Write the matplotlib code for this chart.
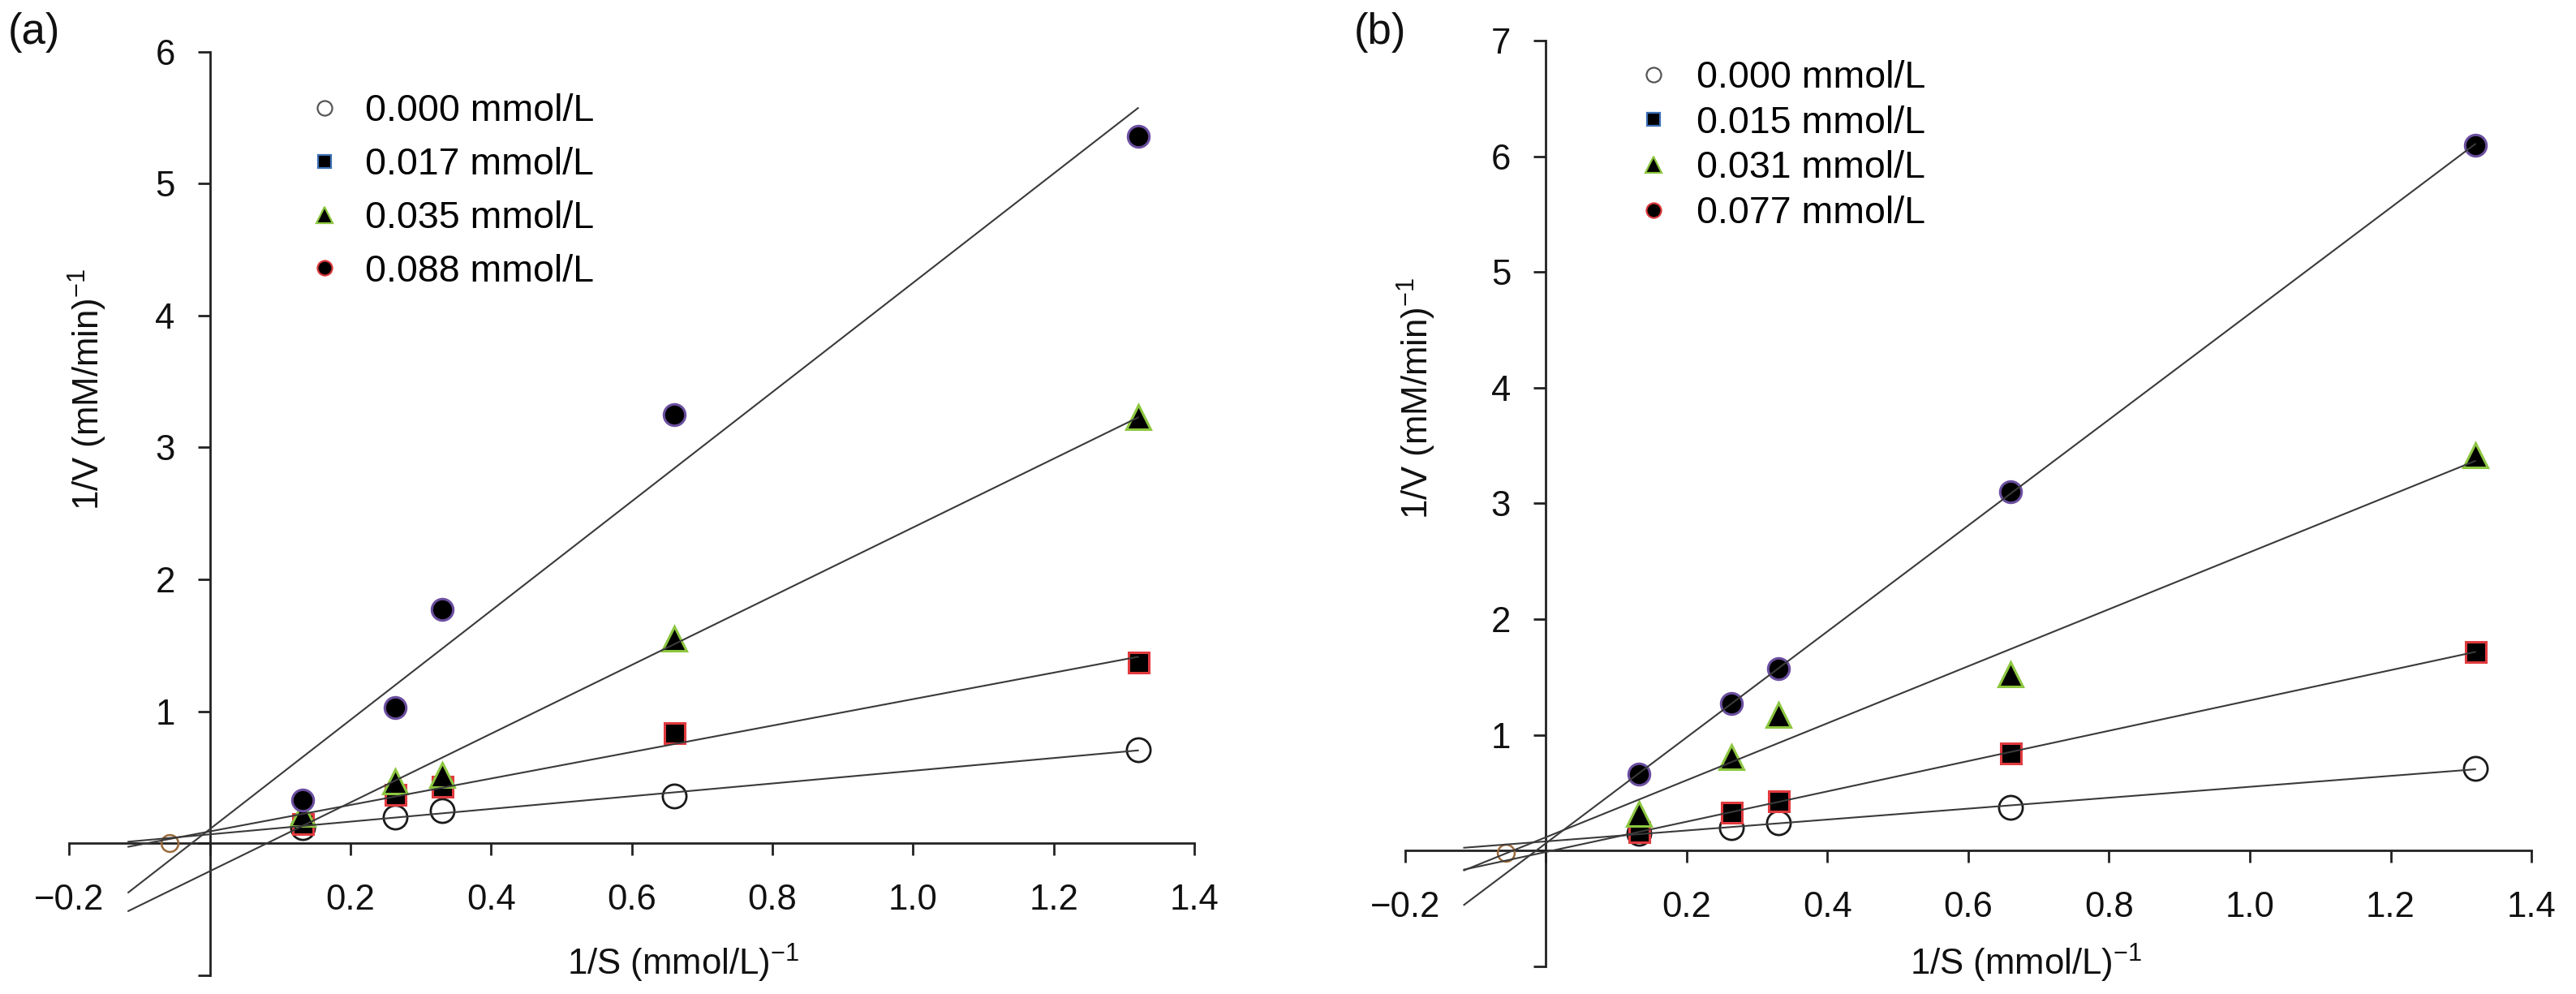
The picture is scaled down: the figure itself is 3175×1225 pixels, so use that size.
import numpy as np
import matplotlib
matplotlib.use("Agg")
import matplotlib.pyplot as plt
from matplotlib.lines import Line2D
from matplotlib.ticker import FixedLocator, FixedFormatter

# ---------------- data ----------------
inv_s = [0.132, 0.264, 0.330, 0.660, 1.320]

a_labels = ["0.000 mmol/L", "0.017 mmol/L", "0.035 mmol/L", "0.088 mmol/L"]
a_000 = [0.12, 0.20, 0.25, 0.36, 0.71]
a_017 = [0.15, 0.37, 0.43, 0.84, 1.37]
a_035 = [0.22, 0.47, 0.52, 1.55, 3.23]
a_088 = [0.33, 1.03, 1.77, 3.25, 5.36]
a_icpt_x = [-0.057]
a_icpt_y = [0.0]

b_labels = ["0.000 mmol/L", "0.015 mmol/L", "0.031 mmol/L", "0.077 mmol/L"]
b_000 = [0.15, 0.20, 0.24, 0.37, 0.71]
b_015 = [0.16, 0.33, 0.43, 0.84, 1.72]
b_031 = [0.32, 0.81, 1.17, 1.52, 3.42]
b_077 = [0.66, 1.27, 1.57, 3.10, 6.10]
b_icpt_x = [-0.057]
b_icpt_y = [-0.02]

fit_range = [-0.116, 1.32]

x_ticks = [-0.2, 0.0, 0.2, 0.4, 0.6, 0.8, 1.0, 1.2, 1.4]
x_tick_labels = ["\u22120.2", "", "0.2", "0.4", "0.6", "0.8", "1.0", "1.2", "1.4"]
a_y_ticks = [-1, 0, 1, 2, 3, 4, 5, 6]
a_y_tick_labels = ["", "", "1", "2", "3", "4", "5", "6"]
b_y_ticks = [-1, 0, 1, 2, 3, 4, 5, 6, 7]
b_y_tick_labels = ["", "", "1", "2", "3", "4", "5", "6", "7"]

xlabel = "1/S (mmol/L)$^{-1}$"
ylabel = "1/V (mM/min)$^{-1}$"

# ---------------- style ----------------
plt.rcParams["font.family"] = ["Liberation Sans", "DejaVu Sans"]
plt.rcParams["mathtext.fontset"] = "custom"
plt.rcParams["mathtext.rm"] = "Liberation Sans"
plt.rcParams["mathtext.it"] = "Liberation Sans:italic"
plt.rcParams["mathtext.bf"] = "Liberation Sans:bold"

FS = 31.5
LEG_FS = 33.5
AX_COL = "#222222"
LINE_COL = "#3a3a3a"

data_styles = [
    dict(marker="o", mfc="none", mec="#1a1a1a", ms=21, mew=2.0),
    dict(marker="s", mfc="black", mec="#e03a3e", ms=18, mew=2.2),
    dict(marker="^", mfc="black", mec="#8cc63f", ms=22, mew=2.2),
    dict(marker="o", mfc="black", mec="#6b4fa0", ms=19, mew=2.2),
]
legend_styles = [
    dict(marker="o", mfc="none", mec="#555555", ms=13, mew=1.6),
    dict(marker="s", mfc="black", mec="#3d6fb6", ms=12, mew=1.6),
    dict(marker="^", mfc="black", mec="#8cc63f", ms=15, mew=1.6),
    dict(marker="o", mfc="black", mec="#d9383a", ms=13, mew=1.6),
]

fig = plt.figure(figsize=(31.75, 12.25), dpi=100)

panels = [
    dict(pos=[0.0269, 0.019, 0.4367, 0.929], ylim=(-1, 6),
         series=[a_000, a_017, a_035, a_088], labels=a_labels,
         icx=a_icpt_x, icy=a_icpt_y, yt=a_y_ticks, ytl=a_y_tick_labels,
         tag="(a)", tagpos=(0.003, 0.988),
         xlab=(0.2653, 0.031), ylab=(0.034, 0.608),
         leg=(0.1187, 0.906), lsp=0.47, htp=0.57),
    dict(pos=[0.5454, 0.028, 0.4373, 0.931], ylim=(-1, 7),
         series=[b_000, b_015, b_031, b_077], labels=b_labels,
         icx=b_icpt_x, icy=b_icpt_y, yt=b_y_ticks, ytl=b_y_tick_labels,
         tag="(b)", tagpos=(0.5255, 0.988),
         xlab=(0.7865, 0.031), ylab=(0.550, 0.599),
         leg=(0.6347, 0.9396), lsp=0.25, htp=0.63),
]

xs_fit = np.array(fit_range)

for p in panels:
    ax = fig.add_axes(p["pos"])
    ax.set_xlim(-0.2, 1.4)
    ax.set_ylim(*p["ylim"])

    for ys, st in zip(p["series"], data_styles):
        ax.plot(inv_s, ys, linestyle="none", zorder=3, **st)
        k, b0 = np.polyfit(inv_s, ys, 1)
        ax.plot(xs_fit, k * xs_fit + b0, color=LINE_COL, lw=1.5, zorder=4)

    ax.plot(p["icx"], p["icy"], linestyle="none", marker="o", mfc="none",
            mec="#9a6a3a", ms=15, mew=1.8, zorder=3)

    for s in ["top", "right"]:
        ax.spines[s].set_visible(False)
    ax.spines["left"].set_position(("data", 0))
    ax.spines["bottom"].set_position(("data", 0))
    for s in ["left", "bottom"]:
        ax.spines[s].set_linewidth(2.0)
        ax.spines[s].set_color(AX_COL)

    ax.xaxis.set_major_locator(FixedLocator(x_ticks))
    ax.xaxis.set_major_formatter(FixedFormatter(x_tick_labels))
    ax.yaxis.set_major_locator(FixedLocator(p["yt"]))
    ax.yaxis.set_major_formatter(FixedFormatter(p["ytl"]))
    ax.tick_params(axis="both", direction="out", length=11, width=2.0,
                   color=AX_COL, labelsize=FS, labelcolor="#111111")
    ax.tick_params(axis="x", pad=25)
    ax.tick_params(axis="y", pad=20)
    ax.set_facecolor("none")

    ax.set_xlabel(xlabel, fontsize=FS, color="#111111")
    ax.xaxis.set_label_coords(*p["xlab"], transform=fig.transFigure)
    ax.xaxis.label.set_verticalalignment("center")
    ax.set_ylabel(ylabel, fontsize=FS, color="#111111")
    ax.yaxis.set_label_coords(*p["ylab"], transform=fig.transFigure)
    ax.yaxis.label.set_verticalalignment("center")
    ax.yaxis.label.set_horizontalalignment("center")

    fig.text(p["tagpos"][0], p["tagpos"][1], p["tag"], fontsize=38,
             ha="left", va="top", color="#111111")

    handles = [Line2D([], [], linestyle="none", **st) for st in legend_styles]
    ax.legend(handles, p["labels"], loc="upper left",
              bbox_to_anchor=p["leg"], bbox_transform=fig.transFigure,
              frameon=False, fontsize=LEG_FS, borderpad=0, borderaxespad=0,
              handlelength=1.0, handletextpad=p["htp"],
              labelspacing=p["lsp"])

fig.savefig("out.png", dpi=100, facecolor="white")
